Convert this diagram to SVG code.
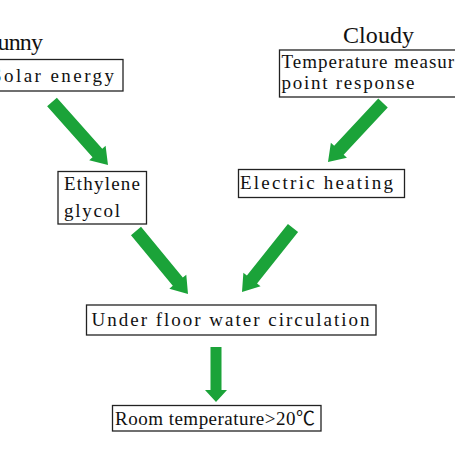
<svg xmlns="http://www.w3.org/2000/svg" width="455" height="455" viewBox="0 0 455 455">
<style>
.box{fill:#fff;stroke:#222;stroke-width:1.3}
.t{font-family:"Liberation Serif","Noto Sans CJK SC",serif;font-size:19px;fill:#111}
.big{font-family:"Liberation Serif",serif;font-size:24px;fill:#111}
.arr{fill:#1ba339}
</style>
<rect width="455" height="455" fill="#fff"/>
<g id="sunny"><text class="big" x="-15" y="50" textLength="58" lengthAdjust="spacing">Sunny</text></g>
<g id="cloudy"><text class="big" x="343" y="43" textLength="71" lengthAdjust="spacing">Cloudy</text></g>
<g id="solar">
<rect class="box" x="-5" y="59.5" width="128" height="31.5"/>
<text class="t" x="-9" y="82" textLength="123" lengthAdjust="spacing">Solar energy</text>
</g>
<g id="temperature">
<rect class="box" x="279.5" y="50" width="190" height="47"/>
<text class="t" x="281.5" y="67.5" textLength="200" lengthAdjust="spacing">Temperature measuring</text>
<text class="t" x="281.5" y="88.5" textLength="133" lengthAdjust="spacing">point response</text>
</g>
<g id="ethylene">
<rect class="box" x="58" y="171.5" width="88.5" height="52.5"/>
<text class="t" x="64" y="190" textLength="76" lengthAdjust="spacing">Ethylene</text>
<text class="t" x="64" y="216.5" textLength="56" lengthAdjust="spacing">glycol</text>
</g>
<g id="electric">
<rect class="box" x="238.5" y="169.5" width="166" height="28"/>
<text class="t" x="240" y="188.5" textLength="153" lengthAdjust="spacing">Electric heating</text>
</g>
<g id="underfloor">
<rect class="box" x="86.5" y="305" width="289.5" height="30"/>
<text class="t" x="91.5" y="326" textLength="278" lengthAdjust="spacing">Under floor water circulation</text>
</g>
<g id="room">
<rect class="box" x="112.5" y="405.5" width="208.5" height="25.5"/>
<text class="t" x="115" y="425" textLength="200" lengthAdjust="spacing">Room temperature&gt;20℃</text>
</g>
<g id="connectors">
<polygon class="arr" points="47.14,106.32 56.86,97.68 102.26,148.73 105.6,145.75 108,165 89.2,160.35 92.54,157.37"/>
<polygon class="arr" points="378.25,98.57 387.75,107.43 343.66,154.73 346.95,157.8 328,162 330.87,142.8 334.16,145.87"/>
<polygon class="arr" points="130.99,235.14 141.01,226.86 182.82,277.52 186.29,274.66 188,294 169.33,288.66 172.8,285.8"/>
<polygon class="arr" points="287.92,223.95 298.08,232.05 257.05,283.54 260.57,286.34 242,292 243.37,272.64 246.89,275.44"/>
<polygon class="arr" points="210.5,347 221.5,347 221.5,390 227,390 216,402 205,390 210.5,390"/>
</g>
</svg>
